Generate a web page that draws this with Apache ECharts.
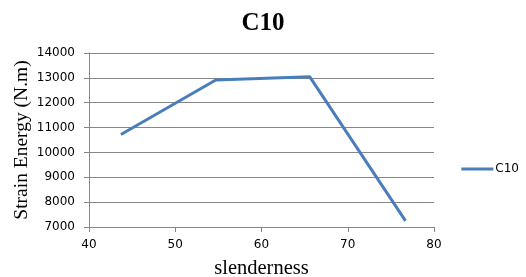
<!DOCTYPE html>
<html><head><meta charset="utf-8">
<script src="https://cdn.jsdelivr.net/npm/echarts@6/dist/echarts.min.js"></script>
<style>html,body{margin:0;padding:0;background:#fff}#c{width:526px;height:277px}</style>
</head><body><div id="c"></div>
<script>
const slenderness = [43.7, 54.7, 65.6, 76.7];
const strainEnergy = [10720, 12915, 13040, 7245];
const seriesName = 'C10';
const chart = echarts.init(document.getElementById('c'));
const axisGray = '#868686';
chart.setOption({
  animation: false,
  title: {text: 'C10', left: 'center', top: 6, textStyle: {fontFamily: 'Liberation Serif', fontWeight: 'bold', fontSize: 25, color: '#000'}},
  legend: {right: 2, top: 158, orient: 'vertical', itemWidth: 32, itemHeight: 3, itemGap: 4,
    icon: 'rect', textStyle: {fontFamily: 'DejaVu Sans', fontSize: 12, color: '#000', padding: [0,0,0,-3]}, data: [seriesName]},
  grid: {left: 89, right: 92, top: 53, bottom: 50, containLabel: false, outerBoundsMode: 'none'},
  xAxis: {type: 'value', min: 40, max: 80, interval: 10,
    name: 'slenderness', nameLocation: 'middle', nameGap: 31, nameMoveOverlap: false,
    nameTextStyle: {fontFamily: 'Liberation Serif', fontSize: 20.5, color: '#000'},
    axisLine: {show: true, lineStyle: {color: axisGray}}, axisTick: {show: true, length: 5, lineStyle: {color: axisGray}},
    splitLine: {show: false},
    axisLabel: {fontFamily: 'DejaVu Sans', fontSize: 12, color: '#000', margin: 12}},
  yAxis: {type: 'value', min: 7000, max: 14000, interval: 1000,
    name: 'Strain Energy (N.m)', nameLocation: 'middle', nameGap: 57, nameMoveOverlap: false,
    nameTextStyle: {fontFamily: 'Liberation Serif', fontSize: 19.5, color: '#000'},
    axisLine: {show: true, lineStyle: {color: axisGray}}, axisTick: {show: true, length: 5, lineStyle: {color: axisGray}},
    splitLine: {show: true, lineStyle: {color: axisGray}},
    axisLabel: {fontFamily: 'DejaVu Sans', fontSize: 12, color: '#000', margin: 14, formatter: v => String(v)}},
  series: [{name: seriesName, type: 'line', data: slenderness.map((x, i) => [x, strainEnergy[i]]),
    showSymbol: false, symbol: 'none', lineStyle: {color: '#4a7ebb', width: 3}, itemStyle: {color: '#4a7ebb'}}]
});
</script></body></html>
